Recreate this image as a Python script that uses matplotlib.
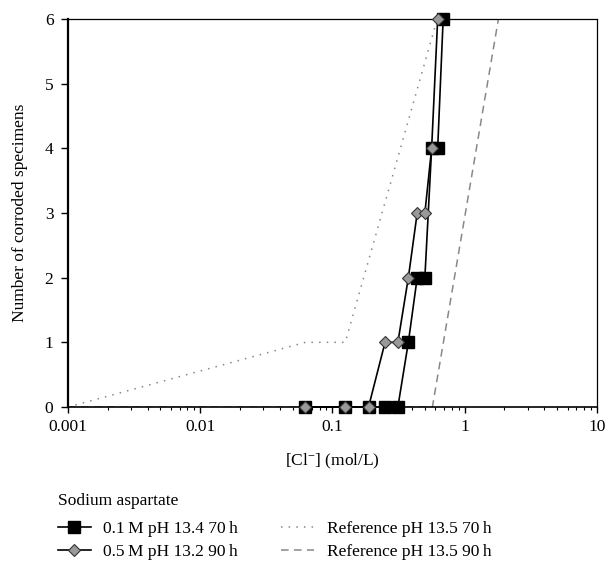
import matplotlib
matplotlib.use("Agg")
import matplotlib.pyplot as plt
from matplotlib.ticker import LogLocator, NullFormatter

plt.rcParams['font.family'] = ['Liberation Serif', 'DejaVu Serif']
plt.rcParams['mathtext.fontset'] = 'custom'
plt.rcParams['mathtext.rm'] = 'Liberation Serif'
plt.rcParams['mathtext.default'] = 'regular'

# 0.1 M sodium aspartate, pH 13.4, 70 h
cl_01 = [0.0625, 0.125, 0.1875, 0.25, 0.3125, 0.375, 0.4375, 0.5, 0.5625, 0.625, 0.6875]
n_01 = [0, 0, 0, 0, 0, 1, 2, 2, 4, 4, 6]

# 0.5 M sodium aspartate, pH 13.2, 90 h
cl_05 = [0.0625, 0.125, 0.1875, 0.25, 0.3125, 0.375, 0.4375, 0.5, 0.5625, 0.625]
n_05 = [0, 0, 0, 1, 1, 2, 3, 3, 4, 6]

# reference solutions
cl_ref70 = [0.001, 0.0625, 0.125, 0.62]
n_ref70 = [0, 1, 1, 6]
cl_ref90 = [0.001, 0.57, 1.8]
n_ref90 = [0, 0, 6]

fig = plt.figure(figsize=(6.1, 5.67), dpi=100)
ax = fig.add_axes([0.1115, 0.2822, 0.867, 0.6843])

ax.plot(cl_ref70, n_ref70, color='#888888', lw=1.1, linestyle=(0, (1, 4)),
        label='Reference pH 13.5 70\u2009h', zorder=2)
ax.plot(cl_ref90, n_ref90, color='#888888', lw=1.1, linestyle=(0, (5, 3.5)),
        label='Reference pH 13.5 90\u2009h', zorder=2)
ax.plot(cl_01, n_01, color='black', lw=1.2, marker='s', markersize=8.5,
        markerfacecolor='black', markeredgecolor='black',
        label='0.1\u2009M pH 13.4 70\u2009h', clip_on=False, zorder=3)
ax.plot(cl_05, n_05, color='black', lw=1.2, marker='D', markersize=6.5,
        markerfacecolor='#999999', markeredgecolor='#333333', markeredgewidth=0.8,
        label='0.5\u2009M pH 13.2 90\u2009h', clip_on=False, zorder=4)

ax.set_xscale('log')
ax.set_xlim(0.001, 10)
ax.set_ylim(0, 6)
ax.set_xticks([0.001, 0.01, 0.1, 1, 10])
ax.set_xticklabels(['0.001', '0.01', '0.1', '1', '10'])
ax.xaxis.set_minor_locator(LogLocator(base=10, subs=range(2, 10)))
ax.xaxis.set_minor_formatter(NullFormatter())
ax.set_yticks(range(0, 7))

ax.tick_params(axis='both', which='major', labelsize=12.5, direction='out', width=1)
ax.tick_params(axis='y', which='major', length=5, pad=5.5)
ax.tick_params(axis='x', which='major', length=4.5, pad=4.5)
ax.tick_params(axis='x', which='minor', direction='out', length=2.5, width=0.8)

ax.spines['left'].set_linewidth(1.6)
ax.spines['bottom'].set_linewidth(1.2)
ax.spines['top'].set_linewidth(0.9)
ax.spines['right'].set_linewidth(0.9)

ax.set_xlabel('[Cl$^{-}$] (mol/L)', fontsize=12.5, labelpad=12)
ax.set_ylabel('Number of corroded specimens', fontsize=12.5, labelpad=12)

fig.text(0.095, 1 - 501 / 567, 'Sodium aspartate', fontsize=12.5, ha='left', va='center')

h, l = ax.get_legend_handles_labels()
order = [2, 3, 0, 1]
leg = fig.legend([h[i] for i in order], [l[i] for i in order], ncol=2,
                 loc='upper left', bbox_to_anchor=(0.095, 1 - 521 / 567),
                 frameon=False, fontsize=12.5, handlelength=1.9,
                 columnspacing=2.5, handletextpad=0.7, labelspacing=0.4,
                 borderpad=0, borderaxespad=0)

fig.savefig('out.png', dpi=100)
